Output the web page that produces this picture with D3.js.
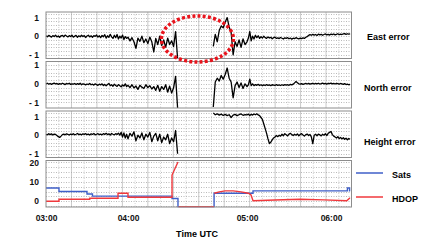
<!DOCTYPE html>
<html>
<head>
<meta charset="utf-8">
<script src="https://cdn.jsdelivr.net/npm/d3@7"></script>
<style>
body { margin: 0; background: #fff; }
svg { display: block; font-family: Arial, "Liberation Sans", sans-serif; }
</style>
</head>
<body>
<svg id="chart" width="432" height="241"></svg>
<script>
// one sample per minute after 03:00 UTC, gap = no position fix
const minutes = d3.range(0, 195);

const eastErr = [
	0.02,-0.03,0.04,0.00,-0.05,0.03,-0.02,0.05,-0.04,0.01,
	-0.06,0.02,0.04,-0.03,0.06,0.01,-0.04,0.03,-0.02,0.05,
	-0.05,0.00,0.04,-0.06,0.02,-0.03,0.05,-0.02,0.03,-0.07,
	0.01,0.05,-0.04,0.02,-0.06,0.03,-0.01,0.06,-0.05,0.02,
	-0.08,0.04,-0.03,0.08,-0.10,0.02,-0.06,0.10,-0.04,-0.12,
	0.05,-0.08,0.09,-0.15,0.00,-0.10,0.06,-0.18,-0.02,-0.12,
	-0.05,-0.25,-0.08,-0.30,-0.65,-0.10,-0.28,0.00,-0.35,-0.15,
	-0.40,-0.05,-0.30,-0.85,-0.12,-0.45,0.00,-0.50,-0.20,-0.60,
	-0.10,-0.45,-0.25,-0.55,0.25,-1.20,
	null,null,null,null,null,null,null,null,null,null,null,null,null,null,null,null,null,
	-0.55,0.10,-0.30,0.30,0.55,0.45,0.75,1.00,0.50,0.20,
	-1.00,-0.30,-0.55,-0.20,-0.60,-0.15,-0.45,-0.30,-0.10,0.25,
	-0.25,0.00,-0.15,0.05,-0.08,0.02,-0.12,-0.03,-0.10,0.00,
	-0.08,-0.12,-0.04,-0.10,-0.06,-0.14,-0.08,-0.05,-0.12,-0.09,
	-0.13,-0.07,-0.11,-0.15,-0.09,-0.12,-0.08,-0.14,-0.10,-0.16,
	-0.11,-0.13,-0.08,-0.12,-0.15,-0.10,-0.13,-0.09,-0.12,-0.06,
	-0.02,0.04,0.08,0.05,0.10,0.06,0.09,0.04,0.11,0.07,
	0.10,0.05,0.09,0.12,0.07,0.10,0.06,0.11,0.08,0.12,
	0.07,0.10,0.13,0.08,0.11,0.09,0.12,0.14,0.10,0.13,
	0.11,0.12
];

const northErr = [
	0.00,0.03,-0.02,0.02,-0.03,0.01,0.04,-0.01,0.02,-0.03,
	0.01,-0.02,0.03,0.00,-0.04,0.02,-0.01,0.03,-0.03,0.00,
	-0.02,0.02,-0.04,0.01,-0.03,0.03,-0.05,0.00,-0.02,-0.06,
	-0.01,-0.04,0.02,-0.05,-0.02,-0.07,0.00,-0.04,-0.08,-0.02,
	-0.06,0.00,-0.09,-0.03,-0.11,-0.04,0.02,-0.10,-0.05,-0.13,
	-0.02,-0.09,-0.14,-0.04,-0.10,-0.16,-0.06,-0.12,0.00,-0.15,
	-0.08,-0.20,-0.05,-0.22,-0.12,-0.30,-0.08,-0.18,-0.25,-0.05,
	-0.20,-0.10,-0.28,-0.15,-0.35,-0.08,-0.40,-0.15,-0.30,-0.05,
	-0.45,-0.12,-0.50,-0.20,0.40,-1.30,
	null,null,null,null,null,null,null,null,null,null,null,null,null,null,null,null,null,
	-1.25,0.10,0.30,0.15,0.45,0.25,0.50,0.85,0.30,0.10,
	-0.75,-0.10,0.10,-0.20,0.05,-0.25,0.00,-0.15,-0.05,0.25,
	-0.10,0.00,-0.10,-0.04,-0.08,-0.03,-0.09,-0.05,-0.10,-0.06,
	-0.09,-0.04,-0.08,-0.06,-0.10,-0.05,-0.07,-0.09,-0.04,-0.08,
	-0.06,-0.09,-0.05,-0.08,-0.04,-0.07,-0.05,-0.08,-0.03,-0.06,
	-0.02,0.05,0.12,0.06,0.00,-0.02,0.01,-0.03,0.00,0.02,
	-0.01,0.02,-0.02,0.01,0.03,-0.01,0.02,0.00,0.03,-0.01,
	0.01,0.04,0.00,0.02,-0.02,0.03,0.01,0.04,0.00,0.02,
	-0.01,0.03,0.01,-0.02,0.02,0.00,-0.03,0.01,-0.04,-0.02,
	-0.05,-0.03
];

const heightErr = [
	0.05,0.02,0.08,0.03,0.07,0.01,0.06,0.04,-0.02,-0.08,
	-0.12,-0.05,0.03,0.06,0.02,0.07,0.04,0.01,0.06,0.03,
	0.08,0.02,0.05,0.09,0.03,0.06,0.02,0.07,0.04,0.08,
	0.03,0.06,0.01,0.07,0.04,0.09,0.02,0.05,0.08,0.03,
	0.06,0.02,0.08,0.04,0.10,0.03,0.07,0.01,0.09,0.05,
	0.02,0.08,0.04,0.11,0.00,0.15,-0.10,0.12,-0.15,0.05,
	-0.20,0.10,-0.05,0.18,-0.30,0.00,-0.15,0.12,-0.25,0.05,
	-0.10,0.15,-0.35,-0.05,0.10,-0.30,0.05,-0.40,-0.10,-0.25,
	0.05,-0.45,-0.15,-0.35,0.25,-1.00,
	null,null,null,null,null,null,null,null,null,null,null,null,null,null,null,null,null,
	1.20,1.10,1.15,1.08,1.13,1.06,1.12,1.05,1.10,0.95,
	1.08,1.12,1.05,1.10,1.14,1.07,1.11,1.09,1.13,1.06,
	1.12,1.08,1.14,1.10,1.15,1.09,1.05,0.95,0.85,0.60,
	0.35,0.10,-0.20,-0.45,-0.38,-0.25,-0.15,-0.10,-0.02,-0.08,
	0.00,-0.05,0.05,-0.03,0.08,0.02,-0.04,0.06,0.10,0.03,
	-0.02,0.05,0.00,0.07,-0.03,0.04,0.08,0.01,-0.05,0.03,
	0.06,-0.02,0.04,-0.10,-0.45,0.00,0.05,-0.03,0.06,0.02,
	-0.04,0.05,0.00,0.08,-0.02,0.10,0.15,0.20,0.03,-0.05,
	-0.10,-0.15,-0.08,-0.18,-0.12,-0.20,-0.14,-0.22,-0.16,-0.25,
	-0.18,-0.22
];

// satellites in view (steps) and HDOP, minutes after 03:00
const satsTime = [0, 9.5, 30, 34, 82.2, 85.2, 103.4, 124.3, 192, 193.6, 194];
const satsVal  = [6.8, 5.0, 3.7, 2.6, 1.4, -2.8, 4.1, 5.3, 6.8, 5.3, 5.3];

const hdopTime = [0, 9.5, 9.5, 32, 32, 52.7, 52.7, 60, 60, 82.2, 82.2, 85.2, 85.3,
	85.5, 103.4, 103.45, 103.5, 106, 109, 113, 117, 121, 122.9, 124.3, 140, 158, 175, 191.5, 193.6, 194];
const hdopVal  = [0, 0, 1.0, 1.0, 1.5, 1.5, 4.1, 4.1, 2.0, 2.0, 13.5, 20.2, null,
	-2.8, -2.8, null, 4.1, 4.8, 5.3, 5.3, 4.8, 4.1, 3.2, 0.25, 0.6, 1.0, 0.7, 0.25, 1.5, 1.5];

const timeLabels = ["03:00", "04:00", "05:00", "06:00"];
const labelMinutes = [0, 60, 120, 180];

const svg = d3.select("#chart"),
	plotLeft = 46, plotRight = 351.5, panelH = 46.5;

// receiver time axis is not evenly spaced in the original plot
const x = d3.scaleLinear()
	.domain([0, 60, 120, 180, 195])
	.range([plotLeft, 128, 247, 331, plotRight]);
const gridX = d3.scaleLinear().domain([0, 24]).range([plotLeft, plotRight]);

const drawFrame = (top, y, hLines, tickVals, tickFmt) => {
	const g = svg.append("g");

	g.selectAll(".vg")
		.data(d3.range(1, 24))
		.enter().append("line")
		.attr("x1", d => gridX(d)).attr("x2", d => gridX(d))
		.attr("y1", top).attr("y2", top + panelH)
		.attr("stroke", d => d % 2 ? "#c8c8c8" : "#bcbcbc")
		.attr("stroke-width", 0.8)
		.attr("stroke-dasharray", d => d % 2 ? "1,1.5" : null);

	g.selectAll(".hg")
		.data(hLines)
		.enter().append("line")
		.attr("x1", plotLeft).attr("x2", plotRight)
		.attr("y1", d => Math.round(y(d)) + 0.5).attr("y2", d => Math.round(y(d)) + 0.5)
		.attr("stroke", "#a8a8a8")
		.attr("stroke-width", 0.8)
		.attr("stroke-dasharray", "1,1.5");

	g.append("g")
		.attr("transform", "translate(39,0)")
		.call(d3.axisLeft(y).tickValues(tickVals).tickFormat(tickFmt).tickSize(0).tickPadding(0))
		.call(a => a.select(".domain").remove())
		.selectAll("text")
		.attr("font-size", 8.5)
		.attr("font-weight", "bold")
		.attr("font-family", "Arial, 'Liberation Sans', sans-serif")
		.attr("fill", "#111");

	return g;
};

const drawBorder = (g, top) => {
	g.append("rect")
		.attr("x", plotLeft).attr("y", top)
		.attr("width", plotRight - plotLeft).attr("height", panelH)
		.attr("fill", "none")
		.attr("stroke", "#8c8c8c")
		.attr("stroke-width", 1);
};

const plotErrorPanel = (top, values, domain, title, titleX, titleY) => {
	const y = d3.scaleLinear().domain(domain).range([top + panelH, top]);
	const hLines = d3.range(-1, 1.21, 0.2).filter(v => v > domain[0] + 0.05 && v < domain[1] - 0.05);
	const g = drawFrame(top, y, hLines, [-1, 0, 1], d => d < 0 ? "- 1" : d);

	const line = d3.line()
		.defined(d => d[1] != null)
		.x(d => x(d[0]))
		.y(d => y(d[1]));

	g.append("path")
		.datum(minutes.map((m, i) => [m, values[i]]))
		.attr("fill", "none")
		.attr("stroke", "#000")
		.attr("stroke-width", 1.3)
		.attr("stroke-linejoin", "round")
		.attr("d", line);

	drawBorder(g, top);

	svg.append("text")
		.attr("x", titleX).attr("y", titleY)
		.attr("font-size", 9).attr("font-weight", "bold")
		.text(title);
};

plotErrorPanel(12, eastErr, [-1.2, 1.3], "East error", 367, 39.5);
plotErrorPanel(61.5, northErr, [-1.3, 1.2], "North error", 364, 91);
plotErrorPanel(111, heightErr, [-1.2, 1.3], "Height error", 364, 145);

// bottom panel: satellites and HDOP
const top4 = 160.5;
const y4 = d3.scaleLinear().domain([-3, 21]).range([top4 + panelH, top4]);
const g4 = drawFrame(top4, y4, d3.range(-2.5, 20.1, 2.5), [0, 10, 20], d => d);

g4.append("path")
	.datum(satsTime.map((t, i) => [t, satsVal[i]]))
	.attr("fill", "none")
	.attr("stroke", "#3f5fc8")
	.attr("stroke-width", 1.4)
	.attr("d", d3.line().curve(d3.curveStepAfter).x(d => x(d[0])).y(d => y4(d[1])));

g4.append("path")
	.datum(hdopTime.map((t, i) => [t, hdopVal[i]]))
	.attr("fill", "none")
	.attr("stroke", "#f0383c")
	.attr("stroke-width", 1.4)
	.attr("d", d3.line().defined(d => d[1] != null).x(d => x(d[0])).y(d => y4(d[1])));

drawBorder(g4, top4);

// legend
const legend = svg.append("g")
	.selectAll("g")
	.data([["Sats", "#3f5fc8", 173, 178], ["HDOP", "#f0383c", 197, 202]])
	.enter().append("g");

legend.append("line")
	.attr("x1", 356).attr("x2", 383)
	.attr("y1", d => d[2]).attr("y2", d => d[2])
	.attr("stroke", d => d[1])
	.attr("stroke-width", 1.5);

legend.append("text")
	.attr("x", 392).attr("y", d => d[3])
	.attr("font-size", 9).attr("font-weight", "bold")
	.text(d => d[0]);

// time axis
svg.append("g")
	.attr("transform", "translate(0,215)")
	.call(d3.axisBottom(x).tickValues(labelMinutes).tickFormat((d, i) => timeLabels[i]).tickSize(0).tickPadding(0))
	.call(a => a.select(".domain").remove())
	.selectAll("text")
	.attr("font-size", 8.5)
	.attr("font-weight", "bold")
	.attr("font-family", "Arial, 'Liberation Sans', sans-serif")
	.attr("fill", "#111");

svg.append("text")
	.attr("x", 197).attr("y", 237)
	.attr("text-anchor", "middle")
	.attr("font-size", 9).attr("font-weight", "bold")
	.text("Time UTC");

// red dotted highlight around the outage
svg.append("ellipse")
	.attr("cx", x(95)).attr("cy", 39)
	.attr("rx", 36).attr("ry", 23)
	.attr("fill", "none")
	.attr("stroke", "#e8141c")
	.attr("stroke-width", 3.5)
	.attr("stroke-dasharray", "3,2.2");
</script>
</body>
</html>
